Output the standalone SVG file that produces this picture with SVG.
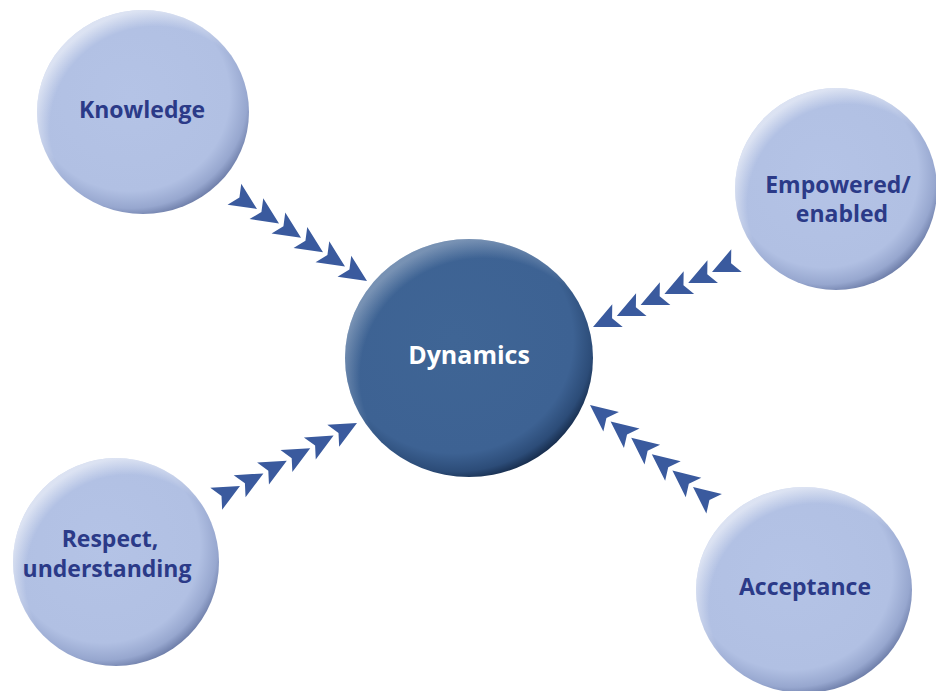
<svg xmlns="http://www.w3.org/2000/svg" xmlns:xlink="http://www.w3.org/1999/xlink" width="936" height="691" viewBox="0 0 936 691">
<style>
.lt{font-family:"Open Sans",Lato,"Liberation Sans",sans-serif;font-weight:bold;font-size:23px;fill:#2b3a88;text-anchor:middle}
.dt{font-family:"Open Sans",Lato,"Liberation Sans",sans-serif;font-weight:bold;font-size:25px;fill:#ffffff;text-anchor:middle}
.ar{fill:#3a5a9e}
</style>
<defs>
<radialGradient id="lShade" cx="0.44" cy="0.42" r="0.6">
<stop offset="0" stop-color="#b4c3e6"/>
<stop offset="0.78" stop-color="#b1c0e3"/>
<stop offset="0.92" stop-color="#97a7cf"/>
<stop offset="1" stop-color="#6e7ea9"/>
</radialGradient>
<radialGradient id="lHi" cx="0.56" cy="0.58" r="0.58">
<stop offset="0.86" stop-color="#ffffff" stop-opacity="0"/>
<stop offset="1" stop-color="#ffffff" stop-opacity="0.55"/>
</radialGradient>
<radialGradient id="dShade" cx="0.44" cy="0.42" r="0.6">
<stop offset="0" stop-color="#3f6595"/>
<stop offset="0.8" stop-color="#3d6293"/>
<stop offset="0.93" stop-color="#2c4c78"/>
<stop offset="1" stop-color="#172d4d"/>
</radialGradient>
<radialGradient id="dHi" cx="0.56" cy="0.58" r="0.58">
<stop offset="0.86" stop-color="#ffffff" stop-opacity="0"/>
<stop offset="1" stop-color="#ffffff" stop-opacity="0.3"/>
</radialGradient>
<path id="ah" d="M0,0 L-27,-12.5 L-21,0 L-27,12.5 Z"/>
</defs>
<rect width="936" height="691" fill="#ffffff"/>
<g id="connectors" class="ar">
<g id="arrows-knowledge">
<use xlink:href="#ah" transform="translate(257,209) rotate(33.2)"/>
<use xlink:href="#ah" transform="translate(279,223.4) rotate(33.2)"/>
<use xlink:href="#ah" transform="translate(301,237.8) rotate(33.2)"/>
<use xlink:href="#ah" transform="translate(323,252.2) rotate(33.2)"/>
<use xlink:href="#ah" transform="translate(345,266.6) rotate(33.2)"/>
<use xlink:href="#ah" transform="translate(367,281) rotate(33.2)"/>
</g>
<g id="arrows-empowered">
<use xlink:href="#ah" transform="translate(712,272) rotate(155.2)"/>
<use xlink:href="#ah" transform="translate(688.2,283) rotate(155.2)"/>
<use xlink:href="#ah" transform="translate(664.4,294) rotate(155.2)"/>
<use xlink:href="#ah" transform="translate(640.6,305) rotate(155.2)"/>
<use xlink:href="#ah" transform="translate(616.8,316) rotate(155.2)"/>
<use xlink:href="#ah" transform="translate(593,327) rotate(155.2)"/>
</g>
<g id="arrows-respect">
<use xlink:href="#ah" transform="translate(240,486) rotate(-28.3)"/>
<use xlink:href="#ah" transform="translate(263.4,473.4) rotate(-28.3)"/>
<use xlink:href="#ah" transform="translate(286.8,460.8) rotate(-28.3)"/>
<use xlink:href="#ah" transform="translate(310.2,448.2) rotate(-28.3)"/>
<use xlink:href="#ah" transform="translate(333.6,435.6) rotate(-28.3)"/>
<use xlink:href="#ah" transform="translate(357,423) rotate(-28.3)"/>
</g>
<g id="arrows-acceptance">
<use xlink:href="#ah" transform="translate(693,487) rotate(218.5)"/>
<use xlink:href="#ah" transform="translate(672.4,470.6) rotate(218.5)"/>
<use xlink:href="#ah" transform="translate(651.8,454.2) rotate(218.5)"/>
<use xlink:href="#ah" transform="translate(631.2,437.8) rotate(218.5)"/>
<use xlink:href="#ah" transform="translate(610.6,421.4) rotate(218.5)"/>
<use xlink:href="#ah" transform="translate(590,405) rotate(218.5)"/>
</g>
</g>
<g id="node-knowledge">
<ellipse cx="143" cy="112" rx="106" ry="102" fill="url(#lShade)"/>
<ellipse cx="143" cy="112" rx="106" ry="102" fill="url(#lHi)"/>
<text class="lt" x="142" y="118">Knowledge</text>
</g>
<g id="node-empowered">
<ellipse cx="836" cy="189" rx="101" ry="101" fill="url(#lShade)"/>
<ellipse cx="836" cy="189" rx="101" ry="101" fill="url(#lHi)"/>
<text class="lt" x="838" y="193">Empowered/</text>
<text class="lt" x="842" y="222">enabled</text>
</g>
<g id="node-respect">
<ellipse cx="116" cy="562" rx="103" ry="104" fill="url(#lShade)"/>
<ellipse cx="116" cy="562" rx="103" ry="104" fill="url(#lHi)"/>
<text class="lt" x="110" y="547">Respect,</text>
<text class="lt" x="107" y="577">understanding</text>
</g>
<g id="node-acceptance">
<ellipse cx="804" cy="590" rx="108" ry="103" fill="url(#lShade)"/>
<ellipse cx="804" cy="590" rx="108" ry="103" fill="url(#lHi)"/>
<text class="lt" x="805" y="595">Acceptance</text>
</g>
<g id="node-dynamics">
<ellipse cx="469" cy="358" rx="124" ry="119" fill="url(#dShade)"/>
<ellipse cx="469" cy="358" rx="124" ry="119" fill="url(#dHi)"/>
<text class="dt" x="469" y="364">Dynamics</text>
</g>
</svg>
